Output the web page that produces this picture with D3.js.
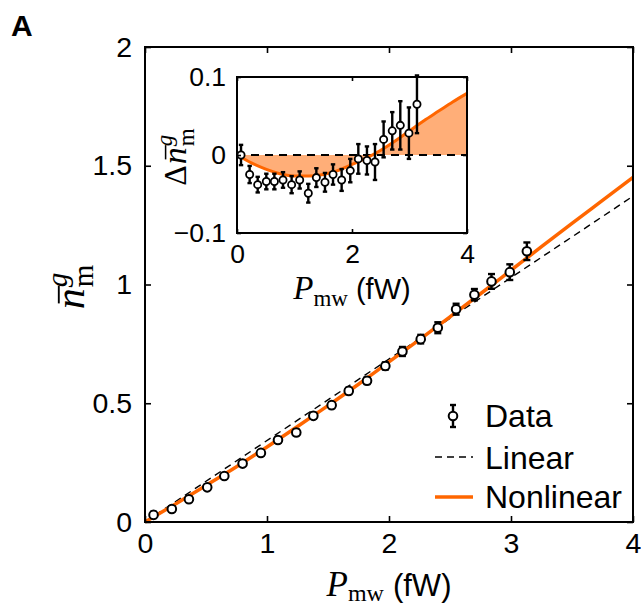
<!DOCTYPE html>
<html>
<head>
<meta charset="utf-8">
<script src="https://cdn.jsdelivr.net/npm/d3@7"></script>
<style>
    body { margin: 0; background: #fff; }
    svg { display: block; }
</style>
</head>
<body>
<svg id="chart" width="641" height="610"></svg>
<script>
// measured points (power in fW)
const power = [0.07, 0.22, 0.36, 0.51, 0.65, 0.80, 0.95, 1.09, 1.24, 1.38, 1.53,
               1.67, 1.82, 1.97, 2.11, 2.26, 2.40, 2.55, 2.70, 2.84, 2.99, 3.13];
const nMean = [0.030, 0.055, 0.096, 0.146, 0.194, 0.246, 0.291, 0.345, 0.377, 0.447, 0.492,
               0.552, 0.595, 0.657, 0.718, 0.770, 0.818, 0.896, 0.957, 1.013, 1.052, 1.140];
const nDelta = [0.000, -0.025, -0.038, -0.034, -0.034, -0.032, -0.038, -0.032, -0.049, -0.029, -0.035,
                -0.025, -0.032, -0.020, -0.005, -0.007, -0.009, 0.020, 0.031, 0.038, 0.028, 0.065];
const nErr = [0.013, 0.011, 0.010, 0.010, 0.010, 0.010, 0.011, 0.011, 0.012, 0.012, 0.012,
              0.013, 0.014, 0.015, 0.019, 0.018, 0.023, 0.023, 0.024, 0.031, 0.033, 0.037];

// model curves
const modelPower = [0, 0.25, 0.5, 0.75, 1.0, 1.25, 1.5, 1.75, 2.0, 2.25, 2.5, 2.75, 3.0, 3.25, 3.5, 3.75, 4.0];
const nonlinN = [0, 0.076, 0.154, 0.233, 0.316, 0.402, 0.490, 0.580, 0.674, 0.768, 0.864,
                 0.961, 1.060, 1.159, 1.257, 1.354, 1.451];
const nonlinDelta = [0, -0.010, -0.018, -0.024, -0.027, -0.027, -0.025, -0.020, -0.012, -0.004, 0.006,
                     0.018, 0.031, 0.044, 0.056, 0.068, 0.079];
const linearPower = [0, 4];
const linearN = [0, 1.372];

// ticks
const xTicks = [0, 1, 2, 3, 4];
const yTicks = [0, 0.5, 1, 1.5, 2];
const insetXTicks = [0, 2, 4];
const insetYTicks = [-0.1, 0, 0.1];

const ORANGE = '#ff6600';
const FILL = '#ffae78';
const sans = '"Liberation Sans", Arial, Helvetica, sans-serif';
const serif = '"Liberation Serif", "Times New Roman", serif';

const svg = d3.select('#chart');

// lays out a small formula piece by piece, centred on (cx, cy)
function mathText(parent, cx, cy, parts, rotate) {
    const g = parent.append('g')
        .attr('transform', `translate(${cx},${cy})` + (rotate ? ' rotate(-90)' : ''));
    const inner = g.append('g');
    let pos = 0, lastStart = 0, lastEnd = 0;
    parts.forEach(p => {
        const start = p.stack ? lastStart : pos + (p.dx || 0);
        const t = inner.append('text')
            .attr('x', start)
            .attr('y', p.dy || 0)
            .style('font-family', p.fam)
            .style('font-style', p.it ? 'italic' : 'normal')
            .style('font-size', p.size + 'px')
            .text(p.t);
        const w = t.node().getComputedTextLength();
        if (p.over) {
            inner.append('line')
                .attr('x1', start + 0.14 * p.size).attr('x2', start + w + 0.06 * p.size)
                .attr('y1', (p.dy || 0) - p.over * p.size).attr('y2', (p.dy || 0) - p.over * p.size)
                .attr('stroke', '#000').attr('stroke-width', Math.max(1.2, p.size * 0.045));
        }
        const end = start + w;
        pos = p.stack ? Math.max(lastEnd, end) : end;
        lastStart = start;
        lastEnd = end;
    });
    inner.attr('transform', `translate(${-pos / 2},0)`);
}

// box with inward ticks on all four sides
function boxAxes(g, xs, ys, xt, yt, fontSize, tick, xPad, yPad) {
    const [xa, xb] = xs.range();
    const [ya, yb] = ys.range();
    const fmt = d3.format('~g');

    g.append('rect')
        .attr('x', xa).attr('y', yb)
        .attr('width', xb - xa).attr('height', ya - yb)
        .attr('fill', 'none').attr('stroke', '#000').attr('stroke-width', 2);

    const parts = [
        g.append('g').attr('transform', `translate(0,${ya})`)
            .call(d3.axisBottom(xs).tickValues(xt).tickSizeInner(-tick).tickSizeOuter(0).tickPadding(xPad).tickFormat(fmt)),
        g.append('g').attr('transform', `translate(0,${yb})`)
            .call(d3.axisTop(xs).tickValues(xt).tickSizeInner(-tick).tickSizeOuter(0).tickFormat('')),
        g.append('g').attr('transform', `translate(${xa},0)`)
            .call(d3.axisLeft(ys).tickValues(yt).tickSizeInner(-tick).tickSizeOuter(0).tickPadding(yPad).tickFormat(fmt)),
        g.append('g').attr('transform', `translate(${xb},0)`)
            .call(d3.axisRight(ys).tickValues(yt).tickSizeInner(-tick).tickSizeOuter(0).tickFormat(''))
    ];
    parts.forEach(a => {
        a.select('.domain').remove();
        a.selectAll('line').attr('stroke', '#000').attr('stroke-width', 1.6);
        a.selectAll('text')
            .attr('fill', '#000')
            .style('font-family', sans)
            .style('font-size', fontSize + 'px');
    });
}

function errorBars(g, xs, ys, vals, cap, width) {
    const bars = g.append('g');
    power.forEach((p, i) => {
        const cx = xs(p);
        const top = ys(vals[i] + nErr[i]);
        const bot = ys(vals[i] - nErr[i]);
        bars.append('line').attr('x1', cx).attr('x2', cx).attr('y1', top).attr('y2', bot);
        bars.append('line').attr('x1', cx - cap).attr('x2', cx + cap).attr('y1', top).attr('y2', top);
        bars.append('line').attr('x1', cx - cap).attr('x2', cx + cap).attr('y1', bot).attr('y2', bot);
    });
    bars.selectAll('line').attr('stroke', '#000').attr('stroke-width', width);
}

// ---------- main panel ----------
const x = d3.scaleLinear().domain([0, 4]).range([145, 633]);
const y = d3.scaleLinear().domain([0, 2]).range([522, 47]);

const main = svg.append('g');

main.append('path')
    .datum(d3.zip(linearPower, linearN))
    .attr('d', d3.line().x(d => x(d[0])).y(d => y(d[1])))
    .attr('fill', 'none').attr('stroke', '#000')
    .attr('stroke-width', 1.4).attr('stroke-dasharray', '7,5');

main.append('path')
    .datum(d3.zip(modelPower, nonlinN))
    .attr('d', d3.line().x(d => x(d[0])).y(d => y(d[1])).curve(d3.curveMonotoneX))
    .attr('fill', 'none').attr('stroke', ORANGE).attr('stroke-width', 3.5);

errorBars(main, x, y, nMean, 3.5, 2.4);

main.append('g').selectAll('circle')
    .data(d3.zip(power, nMean))
    .join('circle')
    .attr('cx', d => x(d[0])).attr('cy', d => y(d[1])).attr('r', 4.3)
    .attr('fill', '#fff').attr('stroke', '#000').attr('stroke-width', 2);

boxAxes(main, x, y, xTicks, yTicks, 28.5, 6, 11, 13);

// axis labels
mathText(svg, 389, 596, [
    { t: 'P', fam: serif, it: true, size: 35 },
    { t: 'mw', fam: serif, size: 24, dy: 5 },
    { t: '(fW)', fam: sans, size: 31, dx: 9 }
]);
mathText(svg, 84, 287, [
    { t: 'n', fam: serif, it: true, size: 42, over: 0.6 },
    { t: 'g', fam: serif, it: true, size: 29, dy: -17, dx: 1 },
    { t: 'm', fam: serif, size: 29, dy: 9, stack: true }
], true);

svg.append('text')
    .attr('x', 11).attr('y', 36)
    .style('font-family', sans).style('font-weight', 'bold').style('font-size', '30px')
    .text('A');

// legend
const legend = svg.append('g');
legend.append('line').attr('x1', 453).attr('x2', 453).attr('y1', 405).attr('y2', 427)
    .attr('stroke', '#000').attr('stroke-width', 2.4);
[405, 427].forEach(v => legend.append('line').attr('x1', 450).attr('x2', 456).attr('y1', v).attr('y2', v)
    .attr('stroke', '#000').attr('stroke-width', 2.4));
legend.append('circle').attr('cx', 453).attr('cy', 416).attr('r', 4.3)
    .attr('fill', '#fff').attr('stroke', '#000').attr('stroke-width', 2);
legend.append('line').attr('x1', 435).attr('x2', 473).attr('y1', 457).attr('y2', 457)
    .attr('stroke', '#000').attr('stroke-width', 1.4).attr('stroke-dasharray', '7,5');
legend.append('line').attr('x1', 435).attr('x2', 473).attr('y1', 497).attr('y2', 497)
    .attr('stroke', ORANGE).attr('stroke-width', 3.5);
[['Data', 427], ['Linear', 469], ['Nonlinear', 508]].forEach(([t, yy]) => {
    legend.append('text').attr('x', 485).attr('y', yy)
        .style('font-family', sans).style('font-size', '32px').text(t);
});

// ---------- inset ----------
const ix = d3.scaleLinear().domain([0, 4]).range([237, 467]);
const iy = d3.scaleLinear().domain([-0.1, 0.1]).range([233, 77]);

const ins = svg.append('g');
ins.append('rect').attr('x', 237).attr('y', 77).attr('width', 230).attr('height', 156).attr('fill', '#fff');

ins.append('path')
    .datum(d3.zip(modelPower, nonlinDelta))
    .attr('d', d3.area().x(d => ix(d[0])).y0(iy(0)).y1(d => iy(d[1])).curve(d3.curveMonotoneX))
    .attr('fill', FILL);

ins.append('line')
    .attr('x1', ix(0)).attr('x2', ix(4)).attr('y1', iy(0)).attr('y2', iy(0))
    .attr('stroke', '#000').attr('stroke-width', 2).attr('stroke-dasharray', '8,6');

ins.append('path')
    .datum(d3.zip(modelPower, nonlinDelta))
    .attr('d', d3.line().x(d => ix(d[0])).y(d => iy(d[1])).curve(d3.curveMonotoneX))
    .attr('fill', 'none').attr('stroke', ORANGE).attr('stroke-width', 3);

errorBars(ins, ix, iy, nDelta, 2.2, 2.4);

ins.append('g').selectAll('circle')
    .data(d3.zip(power, nDelta))
    .join('circle')
    .attr('cx', d => ix(d[0])).attr('cy', d => iy(d[1])).attr('r', 3.6)
    .attr('fill', '#fff').attr('stroke', '#000').attr('stroke-width', 1.8);

boxAxes(ins, ix, iy, insetXTicks, insetYTicks, 26.5, 4, 11, 11);

mathText(svg, 352, 299, [
    { t: 'P', fam: serif, it: true, size: 33 },
    { t: 'mw', fam: serif, size: 23, dy: 7 },
    { t: '(fW)', fam: sans, size: 29, dx: 8 }
]);
mathText(svg, 186, 157, [
    { t: 'Δ', fam: serif, size: 32 },
    { t: 'n', fam: serif, it: true, size: 34, over: 0.6, dx: 1 },
    { t: 'g', fam: serif, it: true, size: 23, dy: -14, dx: 1 },
    { t: 'm', fam: serif, size: 23, dy: 8, stack: true }
], true);
</script>
</body>
</html>
